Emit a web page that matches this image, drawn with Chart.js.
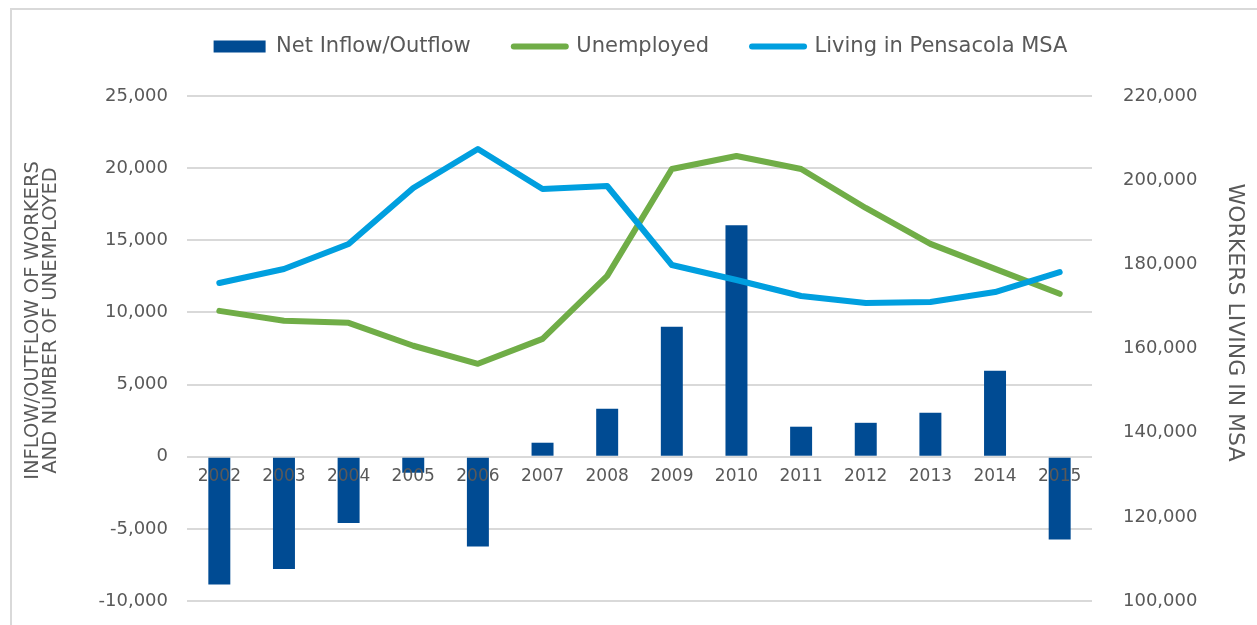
<!DOCTYPE html>
<html>
<head>
<meta charset="utf-8">
<title>Net Inflow/Outflow of Workers - Pensacola MSA</title>
<script src="https://cdn.jsdelivr.net/npm/chart.js@4.4.1/dist/chart.umd.min.js"></script>
<style>
    html, body { margin: 0; padding: 0; background: #fff; overflow: hidden; }
    #wrap { position: relative; width: 1257px; height: 625px; }
    #frame { position: absolute; left: 10px; top: 8px; width: 1300px; height: 700px; border: 2px solid #d9d9d9; box-sizing: border-box; }
    #chart { position: absolute; left: 0; top: 0; }
</style>
</head>
<body>
<div id="wrap">
    <div id="frame"></div>
    <canvas id="chart" width="1257" height="625"></canvas>
</div>
<script>
"use strict";

var years = ['2002', '2003', '2004', '2005', '2006', '2007', '2008', '2009', '2010', '2011', '2012', '2013', '2014', '2015'];
var netFlow = [-8850, -7780, -4590, -1110, -6230, 970, 3320, 9010, 16050, 2080, 2350, 3050, 5960, -5730];
var unemployed = [10110, 9420, 9280, 7690, 6440, 8170, 12530, 19940, 20840, 19940, 17240, 14750, 13020, 11290];
var livingInMsa = [175560, 178890, 184830, 198140, 207400, 197900, 198610, 179840, 176270, 172470, 170810, 171050, 173420, 178170];

var leftTicks = [-10000, -5000, 0, 5000, 10000, 15000, 20000, 25000];
var rightTicks = [100000, 120000, 140000, 160000, 180000, 200000, 220000];

var seriesNames = ['Net Inflow/Outflow', 'Unemployed', 'Living in Pensacola MSA'];
var leftTitle = ['INFLOW/OUTFLOW OF WORKERS', 'AND NUMBER OF UNEMPLOYED'];
var rightTitle = 'WORKERS LIVING IN MSA';

var FONT = "'DejaVu Sans', sans-serif";
var TEXT = '#595959';

var WorkerChart = function () {

    var fmt = function (v) {
        return Number(v).toLocaleString('en-US');
    };

    // axis titles sit a bit above the plot centre, so draw them by hand
    var axisTitles = {
        id: 'axisTitles',
        afterDraw: function (chart) {
            var ctx = chart.ctx;
            var area = chart.chartArea;
            var cy = (area.top + area.bottom) / 2 - 28;
            ctx.save();
            ctx.fillStyle = TEXT;
            ctx.textAlign = 'center';
            ctx.textBaseline = 'middle';

            ctx.save();
            ctx.font = '19.5px ' + FONT;
            ctx.translate(area.left - 154, cy);
            ctx.rotate(-Math.PI / 2);
            ctx.fillText(leftTitle[0], 0, 0);
            ctx.fillText(leftTitle[1], 0, 18);
            ctx.restore();

            ctx.save();
            ctx.font = '22px ' + FONT;
            ctx.translate(area.right + 143, cy + 2);
            ctx.rotate(Math.PI / 2);
            ctx.fillText(rightTitle, 0, 0);
            ctx.restore();

            ctx.restore();
        }
    };

    // leave a gap between the legend and the plot area
    var legendGap = {
        id: 'legendGap',
        afterInit: function (chart) {
            var legend = chart.legend;
            if (!legend) {
                return;
            }
            var fit = legend.fit;
            legend.fit = function () {
                fit.call(this);
                this.height += 29;
            };
        }
    };

    var init = function () {
        var el = document.getElementById('chart');

        new Chart(el, {
            data: {
                labels: years,
                datasets: [{
                    type: 'bar',
                    label: seriesNames[0],
                    data: netFlow,
                    yAxisID: 'y',
                    backgroundColor: '#004b93',
                    barPercentage: 0.34,
                    categoryPercentage: 1,
                    order: 3
                }, {
                    type: 'line',
                    label: seriesNames[1],
                    data: unemployed,
                    yAxisID: 'y',
                    borderColor: '#70ad47',
                    backgroundColor: '#70ad47',
                    borderWidth: 6,
                    borderCapStyle: 'round',
                    borderJoinStyle: 'round',
                    pointRadius: 0,
                    tension: 0,
                    order: 2
                }, {
                    type: 'line',
                    label: seriesNames[2],
                    data: livingInMsa,
                    yAxisID: 'y1',
                    borderColor: '#009fdf',
                    backgroundColor: '#009fdf',
                    borderWidth: 6,
                    borderCapStyle: 'round',
                    borderJoinStyle: 'round',
                    pointRadius: 0,
                    tension: 0,
                    order: 1
                }]
            },
            options: {
                responsive: false,
                animation: false,
                layout: {
                    padding: { left: 24, right: 0, top: -7, bottom: 24 }
                },
                plugins: {
                    tooltip: { enabled: false },
                    legend: {
                        position: 'top',
                        labels: {
                            font: { family: FONT, size: 21 },
                            color: TEXT,
                            padding: 43,
                            usePointStyle: true,
                            pointStyleWidth: 52,
                            boxHeight: 12,
                            sort: function (a, b) {
                                return a.datasetIndex - b.datasetIndex;
                            },
                            generateLabels: function (chart) {
                                var items = Chart.defaults.plugins.legend.labels.generateLabels(chart);
                                items.forEach(function (item) {
                                    var ds = chart.data.datasets[item.datasetIndex];
                                    if (ds.type === 'line') {
                                        item.pointStyle = 'line';
                                        item.lineWidth = 6;
                                        item.lineCap = 'round';
                                        item.strokeStyle = ds.borderColor;
                                    } else {
                                        item.pointStyle = 'rect';
                                        item.lineWidth = 0;
                                    }
                                    item.fontColor = TEXT;
                                });
                                return items;
                            }
                        }
                    }
                },
                scales: {
                    x: {
                        position: { y: 0 },
                        offset: true,
                        // labels hang off the zero line, so the axis takes no room
                        afterFit: function (scale) {
                            scale.height = 0;
                        },
                        grid: { display: false, drawTicks: false },
                        border: { display: false },
                        ticks: {
                            z: 1, // year labels sit on top of the bars
                            autoSkip: false,
                            maxRotation: 0,
                            padding: 10,
                            color: TEXT,
                            font: { family: FONT, size: 17 }
                        }
                    },
                    y: {
                        position: 'left',
                        min: leftTicks[0],
                        max: leftTicks[leftTicks.length - 1],
                        afterFit: function (scale) {
                            scale.width = 163;
                        },
                        // gap to the labels comes from an invisible tick mark,
                        // tick padding would also pad the bottom of the plot
                        grid: { color: '#d9d9d9', lineWidth: 2, drawTicks: true, tickLength: 17, tickColor: 'rgba(0,0,0,0)' },
                        border: { display: false },
                        ticks: {
                            stepSize: leftTicks[1] - leftTicks[0],
                            padding: 2,
                            color: TEXT,
                            font: { family: FONT, size: 18 },
                            callback: fmt
                        }
                    },
                    y1: {
                        position: 'right',
                        min: rightTicks[0],
                        max: rightTicks[rightTicks.length - 1],
                        afterFit: function (scale) {
                            scale.width = 165;
                        },
                        grid: { display: false, drawTicks: true, tickLength: 27 },
                        border: { display: false },
                        ticks: {
                            stepSize: rightTicks[1] - rightTicks[0],
                            padding: 4,
                            color: TEXT,
                            font: { family: FONT, size: 18 },
                            callback: fmt
                        }
                    }
                }
            },
            plugins: [axisTitles, legendGap]
        });
    };

    return {
        init: function () {
            init();
        }
    };

}();

WorkerChart.init();
</script>
</body>
</html>
